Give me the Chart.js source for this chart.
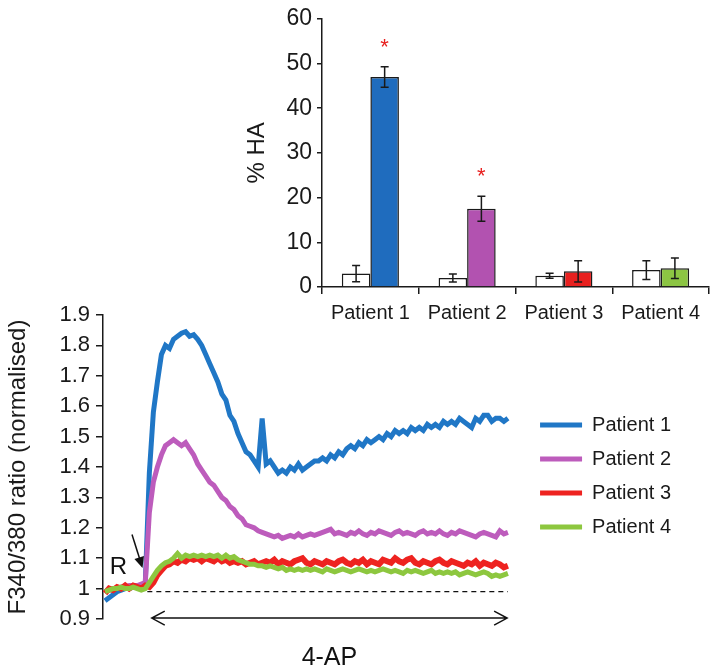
<!DOCTYPE html>
<html>
<head>
<meta charset="utf-8">
<script src="https://cdn.jsdelivr.net/npm/chart.js@4.4.1/dist/chart.umd.min.js"></script>
<style>
    html, body { margin: 0; padding: 0; background: #fff; }
    #wrap { position: relative; width: 718px; height: 670px; overflow: hidden; }
    #lineBox { position: absolute; left: 0; top: 290px; width: 718px; height: 380px; }
    #barBox { position: absolute; left: 230px; top: 0; width: 488px; height: 335px; }
</style>
</head>
<body>
<div id="wrap">
    <div id="lineBox"><canvas id="lineChart" width="718" height="380"></canvas></div>
    <div id="barBox"><canvas id="barChart" width="488" height="335"></canvas></div>
</div>
<script>
const FONT = "'Liberation Sans', Arial, Helvetica, sans-serif";
Chart.defaults.font.family = FONT;
Chart.defaults.color = '#1a1a1a';
Chart.defaults.animation = false;

// ---- bar panel (% HA) ----
const patients = ['Patient 1', 'Patient 2', 'Patient 3', 'Patient 4'];
const controlHA = [3.0, 2.0, 2.5, 3.8];
const controlErr = [1.8, 0.9, 0.55, 2.1];
const treatedHA = [47.0, 17.5, 3.5, 4.2];
const treatedErr = [2.3, 2.8, 2.4, 2.3];
const significant = [true, true, false, false];
const haTicks = [0, 10, 20, 30, 40, 50, 60];

const barColors = ['#1f6cbe', '#b252b0', '#e8201f', '#8cc543'];
const lineColors = ['#2077c6', '#bd5cbc', '#ee2320', '#8dc73f'];

// ---- trace panel (F340/380, one sample per time step) ----
const p1Ratio = [0.96, 0.97, 0.98, 0.99, 0.995, 1.0, 1.0, 1.005, 1.01, 1.01, 1.02,
    1.38, 1.58, 1.68, 1.77, 1.80, 1.79, 1.82, 1.83, 1.84, 1.845,
    1.83, 1.835, 1.82, 1.80, 1.77, 1.74, 1.71, 1.68, 1.64, 1.62,
    1.57, 1.55, 1.51, 1.48, 1.45, 1.44, 1.42, 1.40, 1.56, 1.41,
    1.42, 1.40, 1.38, 1.39, 1.38, 1.40, 1.39, 1.41, 1.39, 1.40,
    1.41, 1.42, 1.42, 1.43, 1.42, 1.44, 1.43, 1.45, 1.44, 1.46,
    1.47, 1.46, 1.48, 1.47, 1.49, 1.48, 1.49, 1.50, 1.49, 1.51,
    1.50, 1.52, 1.51, 1.52, 1.51, 1.53, 1.52, 1.53, 1.52, 1.54,
    1.53, 1.54, 1.53, 1.55, 1.54, 1.55, 1.54, 1.56, 1.55, 1.54,
    1.53, 1.56, 1.55, 1.57, 1.57, 1.55, 1.56, 1.56, 1.55, 1.56];
const p2Ratio = [0.99, 0.995, 1.0, 1.0, 1.005, 1.005, 1.01, 1.01, 1.01, 1.015, 1.02,
    1.25, 1.35, 1.40, 1.44, 1.47, 1.48, 1.49, 1.48, 1.47, 1.48,
    1.46, 1.44, 1.41, 1.39, 1.37, 1.35, 1.34, 1.32, 1.30, 1.29,
    1.27, 1.26, 1.24, 1.23, 1.21, 1.205, 1.20, 1.19, 1.185, 1.18,
    1.175, 1.17, 1.175, 1.165, 1.17, 1.175, 1.17, 1.18, 1.17, 1.175,
    1.18, 1.175, 1.18, 1.185, 1.19, 1.195, 1.18, 1.185, 1.18, 1.175,
    1.185, 1.18, 1.19, 1.18, 1.175, 1.185, 1.18, 1.19, 1.185, 1.18,
    1.175, 1.185, 1.19, 1.18, 1.185, 1.18, 1.175, 1.185, 1.19, 1.18,
    1.185, 1.18, 1.19, 1.18, 1.175, 1.185, 1.18, 1.19, 1.185, 1.18,
    1.175, 1.17, 1.18, 1.185, 1.18, 1.175, 1.17, 1.19, 1.18, 1.185];
const p3Ratio = [0.985, 1.0, 0.995, 1.005, 1.0, 1.01, 1.0, 1.01, 1.005, 1.0, 1.01,
    1.005, 1.02, 1.045, 1.06, 1.075, 1.08, 1.09, 1.085, 1.095, 1.09,
    1.10, 1.095, 1.10, 1.09, 1.10, 1.095, 1.09, 1.10, 1.09, 1.095,
    1.085, 1.09, 1.085, 1.09, 1.08, 1.085, 1.09, 1.08, 1.085, 1.09,
    1.085, 1.095, 1.08, 1.09, 1.085, 1.08, 1.09, 1.095, 1.10, 1.085,
    1.08, 1.09, 1.085, 1.08, 1.09, 1.085, 1.08, 1.09, 1.095, 1.085,
    1.08, 1.09, 1.085, 1.095, 1.08, 1.09, 1.085, 1.08, 1.095, 1.09,
    1.085, 1.10, 1.09, 1.085, 1.095, 1.10, 1.085, 1.08, 1.09, 1.085,
    1.08, 1.09, 1.095, 1.085, 1.08, 1.09, 1.085, 1.08, 1.075, 1.085,
    1.08, 1.09, 1.075, 1.085, 1.08, 1.075, 1.085, 1.08, 1.07, 1.075];
const p4Ratio = [0.99, 0.995, 1.0, 1.0, 1.005, 1.0, 1.0, 1.005, 1.0, 0.995, 1.0,
    1.02, 1.04, 1.06, 1.075, 1.085, 1.09, 1.10, 1.115, 1.10, 1.11,
    1.105, 1.11, 1.105, 1.11, 1.105, 1.11, 1.105, 1.11, 1.10, 1.11,
    1.10, 1.105, 1.095, 1.09, 1.085, 1.08, 1.08, 1.075, 1.075, 1.07,
    1.075, 1.07, 1.065, 1.07, 1.06, 1.065, 1.06, 1.065, 1.06, 1.065,
    1.06, 1.065, 1.06, 1.055, 1.065, 1.06, 1.055, 1.06, 1.065, 1.06,
    1.055, 1.06, 1.065, 1.06, 1.055, 1.06, 1.055, 1.06, 1.065, 1.06,
    1.055, 1.06, 1.055, 1.05, 1.06, 1.055, 1.06, 1.055, 1.05, 1.055,
    1.06, 1.05, 1.055, 1.05, 1.055, 1.05, 1.055, 1.045, 1.05, 1.055,
    1.05, 1.045, 1.05, 1.055, 1.05, 1.04, 1.045, 1.04, 1.045, 1.05];
const ratioTicks = [0.9, 1.0, 1.1, 1.2, 1.3, 1.4, 1.5, 1.6, 1.7, 1.8, 1.9];

// dashed reference at baseline, 4-AP application span, R marker
const baselineLevel = 0.99;
const baselineSpan = [10.5, 100];
const apSpan = [11.6, 99.8];
const apLevel = 0.903;
const rLabelAt = [3.3, 1.07];
const rArrowFrom = [6.7, 1.178];
const rArrowTo = [9.3, 1.068];

const toPoints = (arr) => arr.map((v, i) => ({ x: i, y: v }));

// error bars + significance stars
const barExtras = {
    id: 'barExtras',
    afterDatasetsDraw(chart) {
        const { ctx } = chart;
        const y = chart.scales.y;
        const errs = [controlErr, treatedErr];
        const vals = [controlHA, treatedHA];
        ctx.save();
        ctx.strokeStyle = '#1a1a1a';
        ctx.lineWidth = 1.5;
        [0, 1].forEach(d => {
            chart.getDatasetMeta(d).data.forEach((bar, i) => {
                const top = y.getPixelForValue(vals[d][i] + errs[d][i]);
                const bot = y.getPixelForValue(vals[d][i] - errs[d][i]);
                ctx.beginPath();
                ctx.moveTo(bar.x, top); ctx.lineTo(bar.x, bot);
                ctx.moveTo(bar.x - 4, top); ctx.lineTo(bar.x + 4, top);
                ctx.moveTo(bar.x - 4, bot); ctx.lineTo(bar.x + 4, bot);
                ctx.stroke();
                if (d === 1 && significant[i]) {
                    ctx.fillStyle = '#e8201f';
                    ctx.font = '22px ' + FONT;
                    ctx.textAlign = 'center';
                    ctx.textBaseline = 'middle';
                    ctx.fillText('*', bar.x, top - 19);
                }
            });
        });
        ctx.restore();
    }
};

new Chart(document.getElementById('barChart'), {
    type: 'bar',
    data: {
        labels: patients,
        datasets: [
            { label: 'Control', data: controlHA, backgroundColor: '#ffffff', borderColor: '#1a1a1a', borderWidth: 1.5 },
            { label: '4-AP', data: treatedHA, backgroundColor: barColors, borderColor: '#1a1a1a', borderWidth: 1.5 }
        ]
    },
    options: {
        responsive: false,
        layout: { padding: { left: 0, right: 9, top: 16, bottom: 0 } },
        datasets: { bar: { categoryPercentage: 0.59, barPercentage: 1.0 } },
        plugins: { legend: { display: false }, tooltip: { enabled: false } },
        scales: {
            x: {
                grid: { drawOnChartArea: false, tickLength: 7, color: '#1a1a1a', lineWidth: 1.5 },
                border: { color: '#1a1a1a', width: 1.5 },
                ticks: { font: { size: 20 }, padding: 7, color: '#1a1a1a' },
                afterFit: (s) => { s.height = 48; }
            },
            y: {
                min: 0, max: 60,
                afterBuildTicks: (s) => { s.ticks = haTicks.map(v => ({ value: v })); },
                grid: { drawOnChartArea: false, tickLength: 5, color: '#1a1a1a', lineWidth: 1.5 },
                border: { color: '#1a1a1a', width: 1.5 },
                ticks: { font: { size: 23 }, padding: 5, color: '#1a1a1a' },
                title: { display: true, text: '% HA', font: { size: 24, lineHeight: 1 }, padding: { top: 15, bottom: 0 }, color: '#1a1a1a' },
                afterFit: (s) => { s.width = 92; }
            }
        }
    },
    plugins: [barExtras]
});

// arrows and labels on the trace panel
const traceNotes = {
    id: 'traceNotes',
    afterDatasetsDraw(chart) {
        const { ctx, chartArea } = chart;
        const x = chart.scales.x, y = chart.scales.y;
        ctx.save();
        ctx.strokeStyle = '#111';
        ctx.fillStyle = '#111';
        ctx.lineWidth = 1.5;
        const ay = y.getPixelForValue(apLevel);
        const a0 = x.getPixelForValue(apSpan[0]), a1 = x.getPixelForValue(apSpan[1]);
        ctx.beginPath();
        ctx.moveTo(a0, ay); ctx.lineTo(a1, ay);
        ctx.moveTo(a0 + 13, ay - 7); ctx.lineTo(a0, ay); ctx.lineTo(a0 + 13, ay + 7);
        ctx.moveTo(a1 - 13, ay - 7); ctx.lineTo(a1, ay); ctx.lineTo(a1 - 13, ay + 7);
        ctx.stroke();
        ctx.font = '25px ' + FONT;
        ctx.textAlign = 'center';
        ctx.textBaseline = 'middle';
        ctx.fillText('4-AP', (a0 + a1) / 2, chartArea.bottom + 39);

        ctx.font = '24px ' + FONT;
        ctx.fillText('R', x.getPixelForValue(rLabelAt[0]), y.getPixelForValue(rLabelAt[1]));
        const fx = x.getPixelForValue(rArrowFrom[0]), fy = y.getPixelForValue(rArrowFrom[1]);
        const tx = x.getPixelForValue(rArrowTo[0]), ty = y.getPixelForValue(rArrowTo[1]);
        const ang = Math.atan2(ty - fy, tx - fx);
        ctx.beginPath();
        ctx.moveTo(fx, fy);
        ctx.lineTo(tx - 9 * Math.cos(ang), ty - 9 * Math.sin(ang));
        ctx.stroke();
        ctx.beginPath();
        ctx.moveTo(tx, ty);
        ctx.lineTo(tx - 11 * Math.cos(ang) + 5 * Math.sin(ang), ty - 11 * Math.sin(ang) - 5 * Math.cos(ang));
        ctx.lineTo(tx - 11 * Math.cos(ang) - 5 * Math.sin(ang), ty - 11 * Math.sin(ang) + 5 * Math.cos(ang));
        ctx.closePath();
        ctx.fill();
        ctx.restore();
    }
};

const trace = (label, arr, color, width, order) => ({
    label, data: toPoints(arr), borderColor: color, backgroundColor: color,
    borderWidth: width, pointRadius: 0, tension: 0, order
});

new Chart(document.getElementById('lineChart'), {
    type: 'line',
    data: {
        datasets: [
            trace('Patient 1', p1Ratio, lineColors[0], 5, 4),
            trace('Patient 2', p2Ratio, lineColors[1], 5, 3),
            trace('Patient 3', p3Ratio, lineColors[2], 6, 2),
            trace('Patient 4', p4Ratio, lineColors[3], 5, 1),
            {
                label: 'baseline', data: baselineSpan.map(t => ({ x: t, y: baselineLevel })),
                borderColor: '#111', borderWidth: 1.3, borderDash: [5, 4], pointRadius: 0, order: 5
            }
        ]
    },
    options: {
        responsive: false,
        layout: { padding: { left: 0, right: 37, top: 25, bottom: 51 } },
        plugins: {
            tooltip: { enabled: false },
            legend: {
                position: 'right',
                align: 'center',
                title: { display: true, text: '', padding: 0, font: { size: 18, lineHeight: 1 } },
                labels: {
                    boxWidth: 42, boxHeight: 5, padding: 14,
                    font: { size: 20 }, color: '#1a1a1a',
                    filter: (item) => item.text !== 'baseline',
                    sort: (a, b) => a.datasetIndex - b.datasetIndex,
                    generateLabels: (chart) => Chart.defaults.plugins.legend.labels.generateLabels(chart)
                        .map(l => Object.assign(l, { lineWidth: 0, fillStyle: l.strokeStyle }))
                }
            }
        },
        scales: {
            x: { type: 'linear', display: false, min: -0.5, max: 104.5 },
            y: {
                min: 0.9, max: 1.9,
                afterBuildTicks: (s) => { s.ticks = ratioTicks.map(v => ({ value: v })); },
                grid: { drawOnChartArea: false, tickLength: 7, color: '#1a1a1a', lineWidth: 1.5 },
                border: { color: '#1a1a1a', width: 1.5 },
                ticks: { font: { size: 22 }, padding: 6, color: '#1a1a1a', callback: (v) => String(Math.round(v * 10) / 10) },
                title: { display: true, text: 'F340/380 ratio (normalised)', font: { size: 24, lineHeight: 1 }, padding: { top: 6, bottom: 0 }, color: '#1a1a1a' },
                afterFit: (s) => { s.width = 103; }
            }
        }
    },
    plugins: [traceNotes]
});
</script>
</body>
</html>
